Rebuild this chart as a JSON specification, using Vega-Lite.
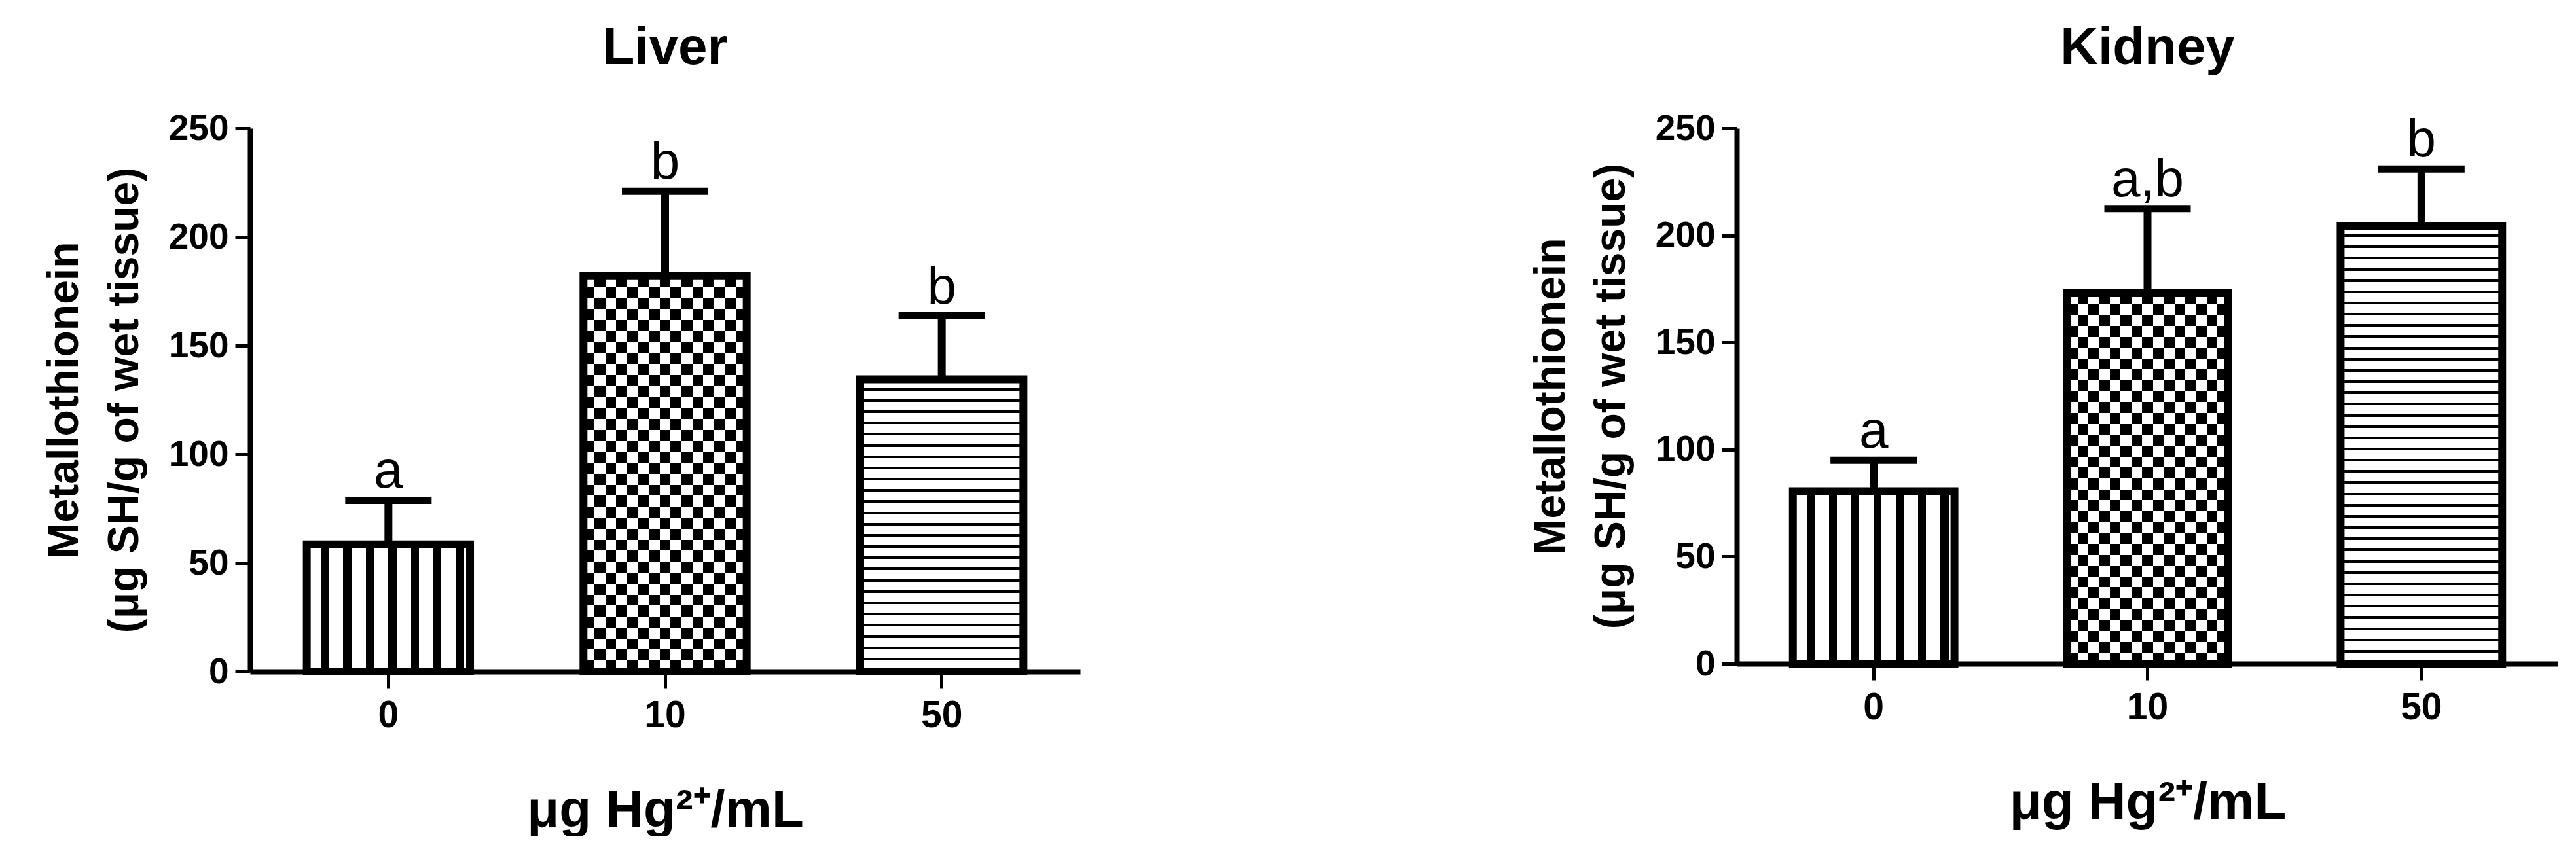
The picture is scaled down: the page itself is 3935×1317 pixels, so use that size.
{
  "$schema": "https://vega.github.io/schema/vega-lite/v6.json",
  "background": "white",
  "padding": {"left": 65, "top": 34, "right": 0, "bottom": 0},
  "spacing": 686,
  "datasets": {
    "liver": [
      {"dose": "0", "mean": 58.5, "upper": 78.8, "label": "a"},
      {"dose": "10", "mean": 182, "upper": 221, "label": "b"},
      {"dose": "50", "mean": 134.5, "upper": 163.7, "label": "b"}
    ],
    "kidney": [
      {"dose": "0", "mean": 80.5, "upper": 95, "label": "a"},
      {"dose": "10", "mean": 173, "upper": 212.5, "label": "a,b"},
      {"dose": "50", "mean": 204.5, "upper": 231, "label": "b"}
    ]
  },
  "hconcat": [
    {
      "title": {"text": "Liver"},
      "width": 1268,
      "height": 830,
      "data": {"name": "liver"},
      "encoding": {
        "x": {"field": "dose", "type": "ordinal", "sort": null, "scale": {"paddingInner": 0.41, "paddingOuter": 0.205}, "axis": {"title": "μg Hg²⁺/mL", "labelAngle": 0}},
        "y": {"field": "mean", "type": "quantitative", "scale": {"domain": [0, 250], "nice": false}, "axis": {"title": ["Metallothionein", "(μg SH/g of wet tissue)"], "values": [0, 50, 100, 150, 200, 250]}}
      },
      "layer": [
        {"transform": [{"filter": "datum.dose === '0'"}], "mark": {"type": "bar", "strokeWidth": 0, "fill": {"gradient": "linear", "x1": 0, "y1": 0, "x2": 1, "y2": 0, "stops": [
          {"offset": 0, "color": "#fff"}, {"offset": 0.0854, "color": "#fff"}, {"offset": 0.0854, "color": "#000"}, {"offset": 0.1341, "color": "#000"}, {"offset": 0.1341, "color": "#fff"},
          {"offset": 0.2236, "color": "#fff"}, {"offset": 0.2236, "color": "#000"}, {"offset": 0.2724, "color": "#000"}, {"offset": 0.2724, "color": "#fff"},
          {"offset": 0.3618, "color": "#fff"}, {"offset": 0.3618, "color": "#000"}, {"offset": 0.4106, "color": "#000"}, {"offset": 0.4106, "color": "#fff"},
          {"offset": 0.5, "color": "#fff"}, {"offset": 0.5, "color": "#000"}, {"offset": 0.5488, "color": "#000"}, {"offset": 0.5488, "color": "#fff"},
          {"offset": 0.6382, "color": "#fff"}, {"offset": 0.6382, "color": "#000"}, {"offset": 0.687, "color": "#000"}, {"offset": 0.687, "color": "#fff"},
          {"offset": 0.7764, "color": "#fff"}, {"offset": 0.7764, "color": "#000"}, {"offset": 0.8252, "color": "#000"}, {"offset": 0.8252, "color": "#fff"},
          {"offset": 0.9146, "color": "#fff"}, {"offset": 0.9146, "color": "#000"}, {"offset": 0.9634, "color": "#000"}, {"offset": 0.9634, "color": "#fff"}, {"offset": 1, "color": "#fff"}]}}},
        {"transform": [{"filter": "datum.dose === '10'"}], "mark": {"type": "bar", "strokeWidth": 0, "fill": {"gradient": "linear", "x1": 0, "y1": 0, "x2": 1, "y2": 0, "stops": [
          {"offset": 0, "color": "#fff"}, {"offset": 0.0667, "color": "#fff"}, {"offset": 0.0667, "color": "#000"}, {"offset": 0.1333, "color": "#000"}, {"offset": 0.1333, "color": "#fff"},
          {"offset": 0.2, "color": "#fff"}, {"offset": 0.2, "color": "#000"}, {"offset": 0.2667, "color": "#000"}, {"offset": 0.2667, "color": "#fff"},
          {"offset": 0.3333, "color": "#fff"}, {"offset": 0.3333, "color": "#000"}, {"offset": 0.4, "color": "#000"}, {"offset": 0.4, "color": "#fff"},
          {"offset": 0.4667, "color": "#fff"}, {"offset": 0.4667, "color": "#000"}, {"offset": 0.5333, "color": "#000"}, {"offset": 0.5333, "color": "#fff"},
          {"offset": 0.6, "color": "#fff"}, {"offset": 0.6, "color": "#000"}, {"offset": 0.6667, "color": "#000"}, {"offset": 0.6667, "color": "#fff"},
          {"offset": 0.7333, "color": "#fff"}, {"offset": 0.7333, "color": "#000"}, {"offset": 0.8, "color": "#000"}, {"offset": 0.8, "color": "#fff"},
          {"offset": 0.8667, "color": "#fff"}, {"offset": 0.8667, "color": "#000"}, {"offset": 0.9333, "color": "#000"}, {"offset": 0.9333, "color": "#fff"}, {"offset": 1, "color": "#fff"}]}}},
        {"transform": [{"filter": "datum.dose === '10'"}], "mark": {"type": "bar", "strokeWidth": 0, "blend": "difference", "fill": {"gradient": "linear", "x1": 0, "y1": 0, "x2": 0, "y2": 1, "stops": [
          {"offset": 0, "color": "rgba(255,255,255,0)"}, {"offset": 0.0278, "color": "rgba(255,255,255,0)"}, {"offset": 0.0278, "color": "#fff"}, {"offset": 0.0556, "color": "#fff"},
          {"offset": 0.0556, "color": "rgba(255,255,255,0)"}, {"offset": 0.0833, "color": "rgba(255,255,255,0)"}, {"offset": 0.0833, "color": "#fff"}, {"offset": 0.1111, "color": "#fff"},
          {"offset": 0.1111, "color": "rgba(255,255,255,0)"}, {"offset": 0.1389, "color": "rgba(255,255,255,0)"}, {"offset": 0.1389, "color": "#fff"}, {"offset": 0.1667, "color": "#fff"},
          {"offset": 0.1667, "color": "rgba(255,255,255,0)"}, {"offset": 0.1944, "color": "rgba(255,255,255,0)"}, {"offset": 0.1944, "color": "#fff"}, {"offset": 0.2222, "color": "#fff"},
          {"offset": 0.2222, "color": "rgba(255,255,255,0)"}, {"offset": 0.25, "color": "rgba(255,255,255,0)"}, {"offset": 0.25, "color": "#fff"}, {"offset": 0.2778, "color": "#fff"},
          {"offset": 0.2778, "color": "rgba(255,255,255,0)"}, {"offset": 0.3056, "color": "rgba(255,255,255,0)"}, {"offset": 0.3056, "color": "#fff"}, {"offset": 0.3333, "color": "#fff"},
          {"offset": 0.3333, "color": "rgba(255,255,255,0)"}, {"offset": 0.3611, "color": "rgba(255,255,255,0)"}, {"offset": 0.3611, "color": "#fff"}, {"offset": 0.3889, "color": "#fff"},
          {"offset": 0.3889, "color": "rgba(255,255,255,0)"}, {"offset": 0.4167, "color": "rgba(255,255,255,0)"}, {"offset": 0.4167, "color": "#fff"}, {"offset": 0.4444, "color": "#fff"},
          {"offset": 0.4444, "color": "rgba(255,255,255,0)"}, {"offset": 0.4722, "color": "rgba(255,255,255,0)"}, {"offset": 0.4722, "color": "#fff"}, {"offset": 0.5, "color": "#fff"},
          {"offset": 0.5, "color": "rgba(255,255,255,0)"}, {"offset": 0.5278, "color": "rgba(255,255,255,0)"}, {"offset": 0.5278, "color": "#fff"}, {"offset": 0.5556, "color": "#fff"},
          {"offset": 0.5556, "color": "rgba(255,255,255,0)"}, {"offset": 0.5833, "color": "rgba(255,255,255,0)"}, {"offset": 0.5833, "color": "#fff"}, {"offset": 0.6111, "color": "#fff"},
          {"offset": 0.6111, "color": "rgba(255,255,255,0)"}, {"offset": 0.6389, "color": "rgba(255,255,255,0)"}, {"offset": 0.6389, "color": "#fff"}, {"offset": 0.6667, "color": "#fff"},
          {"offset": 0.6667, "color": "rgba(255,255,255,0)"}, {"offset": 0.6944, "color": "rgba(255,255,255,0)"}, {"offset": 0.6944, "color": "#fff"}, {"offset": 0.7222, "color": "#fff"},
          {"offset": 0.7222, "color": "rgba(255,255,255,0)"}, {"offset": 0.75, "color": "rgba(255,255,255,0)"}, {"offset": 0.75, "color": "#fff"}, {"offset": 0.7778, "color": "#fff"},
          {"offset": 0.7778, "color": "rgba(255,255,255,0)"}, {"offset": 0.8056, "color": "rgba(255,255,255,0)"}, {"offset": 0.8056, "color": "#fff"}, {"offset": 0.8333, "color": "#fff"},
          {"offset": 0.8333, "color": "rgba(255,255,255,0)"}, {"offset": 0.8611, "color": "rgba(255,255,255,0)"}, {"offset": 0.8611, "color": "#fff"}, {"offset": 0.8889, "color": "#fff"},
          {"offset": 0.8889, "color": "rgba(255,255,255,0)"}, {"offset": 0.9167, "color": "rgba(255,255,255,0)"}, {"offset": 0.9167, "color": "#fff"}, {"offset": 0.9444, "color": "#fff"},
          {"offset": 0.9444, "color": "rgba(255,255,255,0)"}, {"offset": 0.9722, "color": "rgba(255,255,255,0)"}, {"offset": 0.9722, "color": "#fff"}, {"offset": 1, "color": "#fff"}]}}},
        {"transform": [{"filter": "datum.dose === '50'"}], "mark": {"type": "bar", "strokeWidth": 0, "fill": {"gradient": "linear", "x1": 0, "y1": 0, "x2": 0, "y2": 1, "stops": [
          {"offset": 0, "color": "#fff"},
          {"offset": 0.0295, "color": "#fff"}, {"offset": 0.0295, "color": "#000"}, {"offset": 0.0385, "color": "#000"}, {"offset": 0.0385, "color": "#fff"},
          {"offset": 0.0679, "color": "#fff"}, {"offset": 0.0679, "color": "#000"}, {"offset": 0.0769, "color": "#000"}, {"offset": 0.0769, "color": "#fff"},
          {"offset": 0.1064, "color": "#fff"}, {"offset": 0.1064, "color": "#000"}, {"offset": 0.1154, "color": "#000"}, {"offset": 0.1154, "color": "#fff"},
          {"offset": 0.1448, "color": "#fff"}, {"offset": 0.1448, "color": "#000"}, {"offset": 0.1538, "color": "#000"}, {"offset": 0.1538, "color": "#fff"},
          {"offset": 0.1833, "color": "#fff"}, {"offset": 0.1833, "color": "#000"}, {"offset": 0.1923, "color": "#000"}, {"offset": 0.1923, "color": "#fff"},
          {"offset": 0.2218, "color": "#fff"}, {"offset": 0.2218, "color": "#000"}, {"offset": 0.2308, "color": "#000"}, {"offset": 0.2308, "color": "#fff"},
          {"offset": 0.2602, "color": "#fff"}, {"offset": 0.2602, "color": "#000"}, {"offset": 0.2692, "color": "#000"}, {"offset": 0.2692, "color": "#fff"},
          {"offset": 0.2987, "color": "#fff"}, {"offset": 0.2987, "color": "#000"}, {"offset": 0.3077, "color": "#000"}, {"offset": 0.3077, "color": "#fff"},
          {"offset": 0.3372, "color": "#fff"}, {"offset": 0.3372, "color": "#000"}, {"offset": 0.3462, "color": "#000"}, {"offset": 0.3462, "color": "#fff"},
          {"offset": 0.3756, "color": "#fff"}, {"offset": 0.3756, "color": "#000"}, {"offset": 0.3846, "color": "#000"}, {"offset": 0.3846, "color": "#fff"},
          {"offset": 0.4141, "color": "#fff"}, {"offset": 0.4141, "color": "#000"}, {"offset": 0.4231, "color": "#000"}, {"offset": 0.4231, "color": "#fff"},
          {"offset": 0.4525, "color": "#fff"}, {"offset": 0.4525, "color": "#000"}, {"offset": 0.4615, "color": "#000"}, {"offset": 0.4615, "color": "#fff"},
          {"offset": 0.491, "color": "#fff"}, {"offset": 0.491, "color": "#000"}, {"offset": 0.5, "color": "#000"}, {"offset": 0.5, "color": "#fff"},
          {"offset": 0.5295, "color": "#fff"}, {"offset": 0.5295, "color": "#000"}, {"offset": 0.5385, "color": "#000"}, {"offset": 0.5385, "color": "#fff"},
          {"offset": 0.5679, "color": "#fff"}, {"offset": 0.5679, "color": "#000"}, {"offset": 0.5769, "color": "#000"}, {"offset": 0.5769, "color": "#fff"},
          {"offset": 0.6064, "color": "#fff"}, {"offset": 0.6064, "color": "#000"}, {"offset": 0.6154, "color": "#000"}, {"offset": 0.6154, "color": "#fff"},
          {"offset": 0.6448, "color": "#fff"}, {"offset": 0.6448, "color": "#000"}, {"offset": 0.6538, "color": "#000"}, {"offset": 0.6538, "color": "#fff"},
          {"offset": 0.6833, "color": "#fff"}, {"offset": 0.6833, "color": "#000"}, {"offset": 0.6923, "color": "#000"}, {"offset": 0.6923, "color": "#fff"},
          {"offset": 0.7218, "color": "#fff"}, {"offset": 0.7218, "color": "#000"}, {"offset": 0.7308, "color": "#000"}, {"offset": 0.7308, "color": "#fff"},
          {"offset": 0.7602, "color": "#fff"}, {"offset": 0.7602, "color": "#000"}, {"offset": 0.7692, "color": "#000"}, {"offset": 0.7692, "color": "#fff"},
          {"offset": 0.7987, "color": "#fff"}, {"offset": 0.7987, "color": "#000"}, {"offset": 0.8077, "color": "#000"}, {"offset": 0.8077, "color": "#fff"},
          {"offset": 0.8372, "color": "#fff"}, {"offset": 0.8372, "color": "#000"}, {"offset": 0.8462, "color": "#000"}, {"offset": 0.8462, "color": "#fff"},
          {"offset": 0.8756, "color": "#fff"}, {"offset": 0.8756, "color": "#000"}, {"offset": 0.8846, "color": "#000"}, {"offset": 0.8846, "color": "#fff"},
          {"offset": 0.9141, "color": "#fff"}, {"offset": 0.9141, "color": "#000"}, {"offset": 0.9231, "color": "#000"}, {"offset": 0.9231, "color": "#fff"},
          {"offset": 0.9525, "color": "#fff"}, {"offset": 0.9525, "color": "#000"}, {"offset": 0.9615, "color": "#000"}, {"offset": 0.9615, "color": "#fff"},
          {"offset": 1, "color": "#fff"}]}}},
        {"mark": {"type": "bar", "fill": "#fff", "fillOpacity": 0, "stroke": "#000", "strokeWidth": 12, "strokeJoin": "miter"}},
        {"mark": {"type": "rule", "color": "#000", "strokeWidth": 12}, "encoding": {"y2": {"field": "upper"}}},
        {"mark": {"type": "tick", "color": "#000", "opacity": 1, "thickness": 11, "size": 132}, "encoding": {"y": {"field": "upper", "type": "quantitative", "scale": {"domain": [0, 250], "nice": false}, "axis": {"title": ["Metallothionein", "(μg SH/g of wet tissue)"], "values": [0, 50, 100, 150, 200, 250]}}}},
        {"mark": {"type": "text", "color": "#000", "fontSize": 80, "fontWeight": "normal", "baseline": "alphabetic", "dy": -19}, "encoding": {"y": {"field": "upper", "type": "quantitative", "scale": {"domain": [0, 250], "nice": false}, "axis": {"title": ["Metallothionein", "(μg SH/g of wet tissue)"], "values": [0, 50, 100, 150, 200, 250]}}, "text": {"field": "label"}}}
      ]
    },
    {
      "title": {"text": "Kidney"},
      "width": 1255,
      "height": 818,
      "data": {"name": "kidney"},
      "encoding": {
        "x": {"field": "dose", "type": "ordinal", "sort": null, "scale": {"paddingInner": 0.41, "paddingOuter": 0.205}, "axis": {"title": "μg Hg²⁺/mL", "labelAngle": 0}},
        "y": {"field": "mean", "type": "quantitative", "scale": {"domain": [0, 250], "nice": false}, "axis": {"title": ["Metallothionein", "(μg SH/g of wet tissue)"], "values": [0, 50, 100, 150, 200, 250]}}
      },
      "layer": [
        {"transform": [{"filter": "datum.dose === '0'"}], "mark": {"type": "bar", "strokeWidth": 0, "fill": {"gradient": "linear", "x1": 0, "y1": 0, "x2": 1, "y2": 0, "stops": [
          {"offset": 0, "color": "#fff"}, {"offset": 0.0854, "color": "#fff"}, {"offset": 0.0854, "color": "#000"}, {"offset": 0.1341, "color": "#000"}, {"offset": 0.1341, "color": "#fff"},
          {"offset": 0.2236, "color": "#fff"}, {"offset": 0.2236, "color": "#000"}, {"offset": 0.2724, "color": "#000"}, {"offset": 0.2724, "color": "#fff"},
          {"offset": 0.3618, "color": "#fff"}, {"offset": 0.3618, "color": "#000"}, {"offset": 0.4106, "color": "#000"}, {"offset": 0.4106, "color": "#fff"},
          {"offset": 0.5, "color": "#fff"}, {"offset": 0.5, "color": "#000"}, {"offset": 0.5488, "color": "#000"}, {"offset": 0.5488, "color": "#fff"},
          {"offset": 0.6382, "color": "#fff"}, {"offset": 0.6382, "color": "#000"}, {"offset": 0.687, "color": "#000"}, {"offset": 0.687, "color": "#fff"},
          {"offset": 0.7764, "color": "#fff"}, {"offset": 0.7764, "color": "#000"}, {"offset": 0.8252, "color": "#000"}, {"offset": 0.8252, "color": "#fff"},
          {"offset": 0.9146, "color": "#fff"}, {"offset": 0.9146, "color": "#000"}, {"offset": 0.9634, "color": "#000"}, {"offset": 0.9634, "color": "#fff"}, {"offset": 1, "color": "#fff"}]}}},
        {"transform": [{"filter": "datum.dose === '10'"}], "mark": {"type": "bar", "strokeWidth": 0, "fill": {"gradient": "linear", "x1": 0, "y1": 0, "x2": 1, "y2": 0, "stops": [
          {"offset": 0, "color": "#fff"}, {"offset": 0.0667, "color": "#fff"}, {"offset": 0.0667, "color": "#000"}, {"offset": 0.1333, "color": "#000"}, {"offset": 0.1333, "color": "#fff"},
          {"offset": 0.2, "color": "#fff"}, {"offset": 0.2, "color": "#000"}, {"offset": 0.2667, "color": "#000"}, {"offset": 0.2667, "color": "#fff"},
          {"offset": 0.3333, "color": "#fff"}, {"offset": 0.3333, "color": "#000"}, {"offset": 0.4, "color": "#000"}, {"offset": 0.4, "color": "#fff"},
          {"offset": 0.4667, "color": "#fff"}, {"offset": 0.4667, "color": "#000"}, {"offset": 0.5333, "color": "#000"}, {"offset": 0.5333, "color": "#fff"},
          {"offset": 0.6, "color": "#fff"}, {"offset": 0.6, "color": "#000"}, {"offset": 0.6667, "color": "#000"}, {"offset": 0.6667, "color": "#fff"},
          {"offset": 0.7333, "color": "#fff"}, {"offset": 0.7333, "color": "#000"}, {"offset": 0.8, "color": "#000"}, {"offset": 0.8, "color": "#fff"},
          {"offset": 0.8667, "color": "#fff"}, {"offset": 0.8667, "color": "#000"}, {"offset": 0.9333, "color": "#000"}, {"offset": 0.9333, "color": "#fff"}, {"offset": 1, "color": "#fff"}]}}},
        {"transform": [{"filter": "datum.dose === '10'"}], "mark": {"type": "bar", "strokeWidth": 0, "blend": "difference", "fill": {"gradient": "linear", "x1": 0, "y1": 0, "x2": 0, "y2": 1, "stops": [
          {"offset": 0, "color": "rgba(255,255,255,0)"}, {"offset": 0.0294, "color": "rgba(255,255,255,0)"}, {"offset": 0.0294, "color": "#fff"}, {"offset": 0.0588, "color": "#fff"},
          {"offset": 0.0588, "color": "rgba(255,255,255,0)"}, {"offset": 0.0882, "color": "rgba(255,255,255,0)"}, {"offset": 0.0882, "color": "#fff"}, {"offset": 0.1176, "color": "#fff"},
          {"offset": 0.1176, "color": "rgba(255,255,255,0)"}, {"offset": 0.1471, "color": "rgba(255,255,255,0)"}, {"offset": 0.1471, "color": "#fff"}, {"offset": 0.1765, "color": "#fff"},
          {"offset": 0.1765, "color": "rgba(255,255,255,0)"}, {"offset": 0.2059, "color": "rgba(255,255,255,0)"}, {"offset": 0.2059, "color": "#fff"}, {"offset": 0.2353, "color": "#fff"},
          {"offset": 0.2353, "color": "rgba(255,255,255,0)"}, {"offset": 0.2647, "color": "rgba(255,255,255,0)"}, {"offset": 0.2647, "color": "#fff"}, {"offset": 0.2941, "color": "#fff"},
          {"offset": 0.2941, "color": "rgba(255,255,255,0)"}, {"offset": 0.3235, "color": "rgba(255,255,255,0)"}, {"offset": 0.3235, "color": "#fff"}, {"offset": 0.3529, "color": "#fff"},
          {"offset": 0.3529, "color": "rgba(255,255,255,0)"}, {"offset": 0.3824, "color": "rgba(255,255,255,0)"}, {"offset": 0.3824, "color": "#fff"}, {"offset": 0.4118, "color": "#fff"},
          {"offset": 0.4118, "color": "rgba(255,255,255,0)"}, {"offset": 0.4412, "color": "rgba(255,255,255,0)"}, {"offset": 0.4412, "color": "#fff"}, {"offset": 0.4706, "color": "#fff"},
          {"offset": 0.4706, "color": "rgba(255,255,255,0)"}, {"offset": 0.5, "color": "rgba(255,255,255,0)"}, {"offset": 0.5, "color": "#fff"}, {"offset": 0.5294, "color": "#fff"},
          {"offset": 0.5294, "color": "rgba(255,255,255,0)"}, {"offset": 0.5588, "color": "rgba(255,255,255,0)"}, {"offset": 0.5588, "color": "#fff"}, {"offset": 0.5882, "color": "#fff"},
          {"offset": 0.5882, "color": "rgba(255,255,255,0)"}, {"offset": 0.6176, "color": "rgba(255,255,255,0)"}, {"offset": 0.6176, "color": "#fff"}, {"offset": 0.6471, "color": "#fff"},
          {"offset": 0.6471, "color": "rgba(255,255,255,0)"}, {"offset": 0.6765, "color": "rgba(255,255,255,0)"}, {"offset": 0.6765, "color": "#fff"}, {"offset": 0.7059, "color": "#fff"},
          {"offset": 0.7059, "color": "rgba(255,255,255,0)"}, {"offset": 0.7353, "color": "rgba(255,255,255,0)"}, {"offset": 0.7353, "color": "#fff"}, {"offset": 0.7647, "color": "#fff"},
          {"offset": 0.7647, "color": "rgba(255,255,255,0)"}, {"offset": 0.7941, "color": "rgba(255,255,255,0)"}, {"offset": 0.7941, "color": "#fff"}, {"offset": 0.8235, "color": "#fff"},
          {"offset": 0.8235, "color": "rgba(255,255,255,0)"}, {"offset": 0.8529, "color": "rgba(255,255,255,0)"}, {"offset": 0.8529, "color": "#fff"}, {"offset": 0.8824, "color": "#fff"},
          {"offset": 0.8824, "color": "rgba(255,255,255,0)"}, {"offset": 0.9118, "color": "rgba(255,255,255,0)"}, {"offset": 0.9118, "color": "#fff"}, {"offset": 0.9412, "color": "#fff"},
          {"offset": 0.9412, "color": "rgba(255,255,255,0)"}, {"offset": 0.9706, "color": "rgba(255,255,255,0)"}, {"offset": 0.9706, "color": "#fff"}, {"offset": 1, "color": "#fff"}]}}},
        {"transform": [{"filter": "datum.dose === '50'"}], "mark": {"type": "bar", "strokeWidth": 0, "fill": {"gradient": "linear", "x1": 0, "y1": 0, "x2": 0, "y2": 1, "stops": [
          {"offset": 0, "color": "#fff"},
          {"offset": 0.0196, "color": "#fff"}, {"offset": 0.0196, "color": "#000"}, {"offset": 0.0256, "color": "#000"}, {"offset": 0.0256, "color": "#fff"},
          {"offset": 0.0453, "color": "#fff"}, {"offset": 0.0453, "color": "#000"}, {"offset": 0.0513, "color": "#000"}, {"offset": 0.0513, "color": "#fff"},
          {"offset": 0.0709, "color": "#fff"}, {"offset": 0.0709, "color": "#000"}, {"offset": 0.0769, "color": "#000"}, {"offset": 0.0769, "color": "#fff"},
          {"offset": 0.0966, "color": "#fff"}, {"offset": 0.0966, "color": "#000"}, {"offset": 0.1026, "color": "#000"}, {"offset": 0.1026, "color": "#fff"},
          {"offset": 0.1222, "color": "#fff"}, {"offset": 0.1222, "color": "#000"}, {"offset": 0.1282, "color": "#000"}, {"offset": 0.1282, "color": "#fff"},
          {"offset": 0.1478, "color": "#fff"}, {"offset": 0.1478, "color": "#000"}, {"offset": 0.1538, "color": "#000"}, {"offset": 0.1538, "color": "#fff"},
          {"offset": 0.1735, "color": "#fff"}, {"offset": 0.1735, "color": "#000"}, {"offset": 0.1795, "color": "#000"}, {"offset": 0.1795, "color": "#fff"},
          {"offset": 0.1991, "color": "#fff"}, {"offset": 0.1991, "color": "#000"}, {"offset": 0.2051, "color": "#000"}, {"offset": 0.2051, "color": "#fff"},
          {"offset": 0.2248, "color": "#fff"}, {"offset": 0.2248, "color": "#000"}, {"offset": 0.2308, "color": "#000"}, {"offset": 0.2308, "color": "#fff"},
          {"offset": 0.2504, "color": "#fff"}, {"offset": 0.2504, "color": "#000"}, {"offset": 0.2564, "color": "#000"}, {"offset": 0.2564, "color": "#fff"},
          {"offset": 0.2761, "color": "#fff"}, {"offset": 0.2761, "color": "#000"}, {"offset": 0.2821, "color": "#000"}, {"offset": 0.2821, "color": "#fff"},
          {"offset": 0.3017, "color": "#fff"}, {"offset": 0.3017, "color": "#000"}, {"offset": 0.3077, "color": "#000"}, {"offset": 0.3077, "color": "#fff"},
          {"offset": 0.3273, "color": "#fff"}, {"offset": 0.3273, "color": "#000"}, {"offset": 0.3333, "color": "#000"}, {"offset": 0.3333, "color": "#fff"},
          {"offset": 0.353, "color": "#fff"}, {"offset": 0.353, "color": "#000"}, {"offset": 0.359, "color": "#000"}, {"offset": 0.359, "color": "#fff"},
          {"offset": 0.3786, "color": "#fff"}, {"offset": 0.3786, "color": "#000"}, {"offset": 0.3846, "color": "#000"}, {"offset": 0.3846, "color": "#fff"},
          {"offset": 0.4043, "color": "#fff"}, {"offset": 0.4043, "color": "#000"}, {"offset": 0.4103, "color": "#000"}, {"offset": 0.4103, "color": "#fff"},
          {"offset": 0.4299, "color": "#fff"}, {"offset": 0.4299, "color": "#000"}, {"offset": 0.4359, "color": "#000"}, {"offset": 0.4359, "color": "#fff"},
          {"offset": 0.4555, "color": "#fff"}, {"offset": 0.4555, "color": "#000"}, {"offset": 0.4615, "color": "#000"}, {"offset": 0.4615, "color": "#fff"},
          {"offset": 0.4812, "color": "#fff"}, {"offset": 0.4812, "color": "#000"}, {"offset": 0.4872, "color": "#000"}, {"offset": 0.4872, "color": "#fff"},
          {"offset": 0.5068, "color": "#fff"}, {"offset": 0.5068, "color": "#000"}, {"offset": 0.5128, "color": "#000"}, {"offset": 0.5128, "color": "#fff"},
          {"offset": 0.5325, "color": "#fff"}, {"offset": 0.5325, "color": "#000"}, {"offset": 0.5385, "color": "#000"}, {"offset": 0.5385, "color": "#fff"},
          {"offset": 0.5581, "color": "#fff"}, {"offset": 0.5581, "color": "#000"}, {"offset": 0.5641, "color": "#000"}, {"offset": 0.5641, "color": "#fff"},
          {"offset": 0.5837, "color": "#fff"}, {"offset": 0.5837, "color": "#000"}, {"offset": 0.5897, "color": "#000"}, {"offset": 0.5897, "color": "#fff"},
          {"offset": 0.6094, "color": "#fff"}, {"offset": 0.6094, "color": "#000"}, {"offset": 0.6154, "color": "#000"}, {"offset": 0.6154, "color": "#fff"},
          {"offset": 0.635, "color": "#fff"}, {"offset": 0.635, "color": "#000"}, {"offset": 0.641, "color": "#000"}, {"offset": 0.641, "color": "#fff"},
          {"offset": 0.6607, "color": "#fff"}, {"offset": 0.6607, "color": "#000"}, {"offset": 0.6667, "color": "#000"}, {"offset": 0.6667, "color": "#fff"},
          {"offset": 0.6863, "color": "#fff"}, {"offset": 0.6863, "color": "#000"}, {"offset": 0.6923, "color": "#000"}, {"offset": 0.6923, "color": "#fff"},
          {"offset": 0.7119, "color": "#fff"}, {"offset": 0.7119, "color": "#000"}, {"offset": 0.7179, "color": "#000"}, {"offset": 0.7179, "color": "#fff"},
          {"offset": 0.7376, "color": "#fff"}, {"offset": 0.7376, "color": "#000"}, {"offset": 0.7436, "color": "#000"}, {"offset": 0.7436, "color": "#fff"},
          {"offset": 0.7632, "color": "#fff"}, {"offset": 0.7632, "color": "#000"}, {"offset": 0.7692, "color": "#000"}, {"offset": 0.7692, "color": "#fff"},
          {"offset": 0.7889, "color": "#fff"}, {"offset": 0.7889, "color": "#000"}, {"offset": 0.7949, "color": "#000"}, {"offset": 0.7949, "color": "#fff"},
          {"offset": 0.8145, "color": "#fff"}, {"offset": 0.8145, "color": "#000"}, {"offset": 0.8205, "color": "#000"}, {"offset": 0.8205, "color": "#fff"},
          {"offset": 0.8402, "color": "#fff"}, {"offset": 0.8402, "color": "#000"}, {"offset": 0.8462, "color": "#000"}, {"offset": 0.8462, "color": "#fff"},
          {"offset": 0.8658, "color": "#fff"}, {"offset": 0.8658, "color": "#000"}, {"offset": 0.8718, "color": "#000"}, {"offset": 0.8718, "color": "#fff"},
          {"offset": 0.8914, "color": "#fff"}, {"offset": 0.8914, "color": "#000"}, {"offset": 0.8974, "color": "#000"}, {"offset": 0.8974, "color": "#fff"},
          {"offset": 0.9171, "color": "#fff"}, {"offset": 0.9171, "color": "#000"}, {"offset": 0.9231, "color": "#000"}, {"offset": 0.9231, "color": "#fff"},
          {"offset": 0.9427, "color": "#fff"}, {"offset": 0.9427, "color": "#000"}, {"offset": 0.9487, "color": "#000"}, {"offset": 0.9487, "color": "#fff"},
          {"offset": 0.9684, "color": "#fff"}, {"offset": 0.9684, "color": "#000"}, {"offset": 0.9744, "color": "#000"}, {"offset": 0.9744, "color": "#fff"},
          {"offset": 1, "color": "#fff"}]}}},
        {"mark": {"type": "bar", "fill": "#fff", "fillOpacity": 0, "stroke": "#000", "strokeWidth": 12, "strokeJoin": "miter"}},
        {"mark": {"type": "rule", "color": "#000", "strokeWidth": 12}, "encoding": {"y2": {"field": "upper"}}},
        {"mark": {"type": "tick", "color": "#000", "opacity": 1, "thickness": 11, "size": 132}, "encoding": {"y": {"field": "upper", "type": "quantitative", "scale": {"domain": [0, 250], "nice": false}, "axis": {"title": ["Metallothionein", "(μg SH/g of wet tissue)"], "values": [0, 50, 100, 150, 200, 250]}}}},
        {"mark": {"type": "text", "color": "#000", "fontSize": 80, "fontWeight": "normal", "baseline": "alphabetic", "dy": -19}, "encoding": {"y": {"field": "upper", "type": "quantitative", "scale": {"domain": [0, 250], "nice": false}, "axis": {"title": ["Metallothionein", "(μg SH/g of wet tissue)"], "values": [0, 50, 100, 150, 200, 250]}}, "text": {"field": "label"}}}
      ]
    }
  ],
  "config": {
    "font": "Liberation Sans",
    "view": {"stroke": null},
    "title": {"font": "Liberation Sans", "fontSize": 80, "fontWeight": "bold", "color": "#000", "frame": "group", "anchor": "middle", "offset": 54},
    "axis": {"grid": false, "domainColor": "#000", "tickColor": "#000", "labelColor": "#000", "titleColor": "#000", "labelFont": "Liberation Sans", "titleFont": "Liberation Sans", "labelFontWeight": "bold", "titleFontWeight": "bold"},
    "axisY": {"domainWidth": 8, "tickWidth": 5, "tickSize": 23, "labelFontSize": 55, "labelPadding": 10, "titleFontSize": 66, "titleLineHeight": 92, "titlePadding": 33},
    "axisX": {"domainWidth": 8, "tickWidth": 5, "tickSize": 25, "labelFontSize": 57, "labelPadding": 14, "titleFontSize": 80, "titlePadding": 78}
  }
}
